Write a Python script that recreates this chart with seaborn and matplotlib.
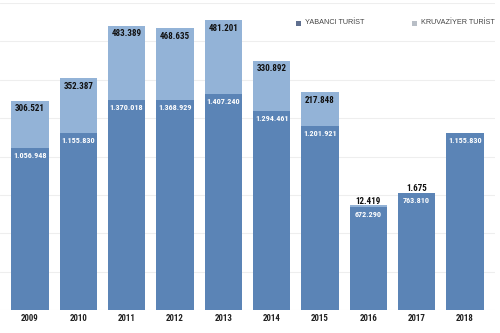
import matplotlib
matplotlib.use("Agg")
import matplotlib.pyplot as plt
import seaborn as sns
import pandas as pd
from matplotlib.patches import Rectangle

years = ["2009", "2010", "2011", "2012", "2013", "2014", "2015", "2016", "2017", "2018"]
yabanci = [1056948, 1155830, 1370018, 1368929, 1407240, 1294461, 1201921, 672290, 763810, 1155830]
kruvaziyer = [306521, 352387, 483389, 468635, 481201, 330892, 217848, 12419, 1675, 0]
series_names = ["YABANCI TURİST", "KRUVAZİYER TURİST"]

DARK = "#5b84b6"
LIGHT = "#93b3d7"
NARROW = ["Roboto Condensed", "Liberation Sans", "DejaVu Sans"]

sns.set_theme(style="white")
plt.rcParams["font.family"] = ["Liberation Sans", "DejaVu Sans"]

def fmt(v):
    return f"{v:,}".replace(",", ".")

totals = [a + b for a, b in zip(yabanci, kruvaziyer)]
df = pd.DataFrame({"year": years, "yabanci": yabanci, "kruvaziyer": kruvaziyer, "total": totals})

fig = plt.figure(figsize=(5, 3.33), dpi=100)
ax = fig.add_axes([0.0, 0.069, 0.99, 0.922])

sns.barplot(data=df, x="year", y="total", color=LIGHT, saturation=1, width=0.77, ax=ax, zorder=2, linewidth=0)
sns.barplot(data=df, x="year", y="yabanci", color=DARK, saturation=1, width=0.77, ax=ax, zorder=3, linewidth=0)

ax.set_ylim(0, 2000000)
ax.set_xlim(-0.62, 9.62)
ax.set_yticks(range(0, 2000001, 250000))
ax.yaxis.grid(True, color="#eeeeee", linewidth=0.8, zorder=0)
ax.set_axisbelow(True)
ax.tick_params(axis="y", left=False, labelleft=False, length=0)
ax.tick_params(axis="x", bottom=False, length=0, pad=3)
for lab in ax.get_xticklabels():
    lab.set_fontsize(6.4)
    lab.set_fontweight("bold")
    lab.set_color("#222222")
    lab.set_family(NARROW)
ax.set_xlabel("")
ax.set_ylabel("")
for s in ax.spines.values():
    s.set_visible(False)

for i, (y, k, t) in enumerate(zip(yabanci, kruvaziyer, totals)):
    ax.annotate(fmt(y), (i, y), xytext=(0, -3.0), textcoords="offset points",
                ha="center", va="top", fontsize=5.9, color="white", fontweight="bold",
                family=NARROW, zorder=5)
    if k > 0:
        if k > 50000:
            ax.annotate(fmt(k), (i, t), xytext=(0, -2.6), textcoords="offset points",
                        ha="center", va="top", fontsize=6.5, color="#111111", fontweight="bold",
                        family=NARROW, zorder=5)
        else:
            ax.annotate(fmt(k), (i, t), xytext=(0, -0.5), textcoords="offset points",
                        ha="center", va="bottom", fontsize=6.5, color="#111111", fontweight="bold",
                        family=NARROW, zorder=5)

# legend
W, H = 500, 333
leg = [(296, "#5f6f8f", series_names[0]), (412, "#b8bec6", series_names[1])]
for x, c, name in leg:
    fig.add_artist(Rectangle((x / W, 1 - 25.5 / H), 5 / W, 5 / H, transform=fig.transFigure,
                             facecolor=c, edgecolor="none"))
    fig.text((x + 9) / W, 1 - 23 / H, name, fontsize=5.2, color="#444444", va="center", ha="left")

fig.savefig("out.png", dpi=100)
